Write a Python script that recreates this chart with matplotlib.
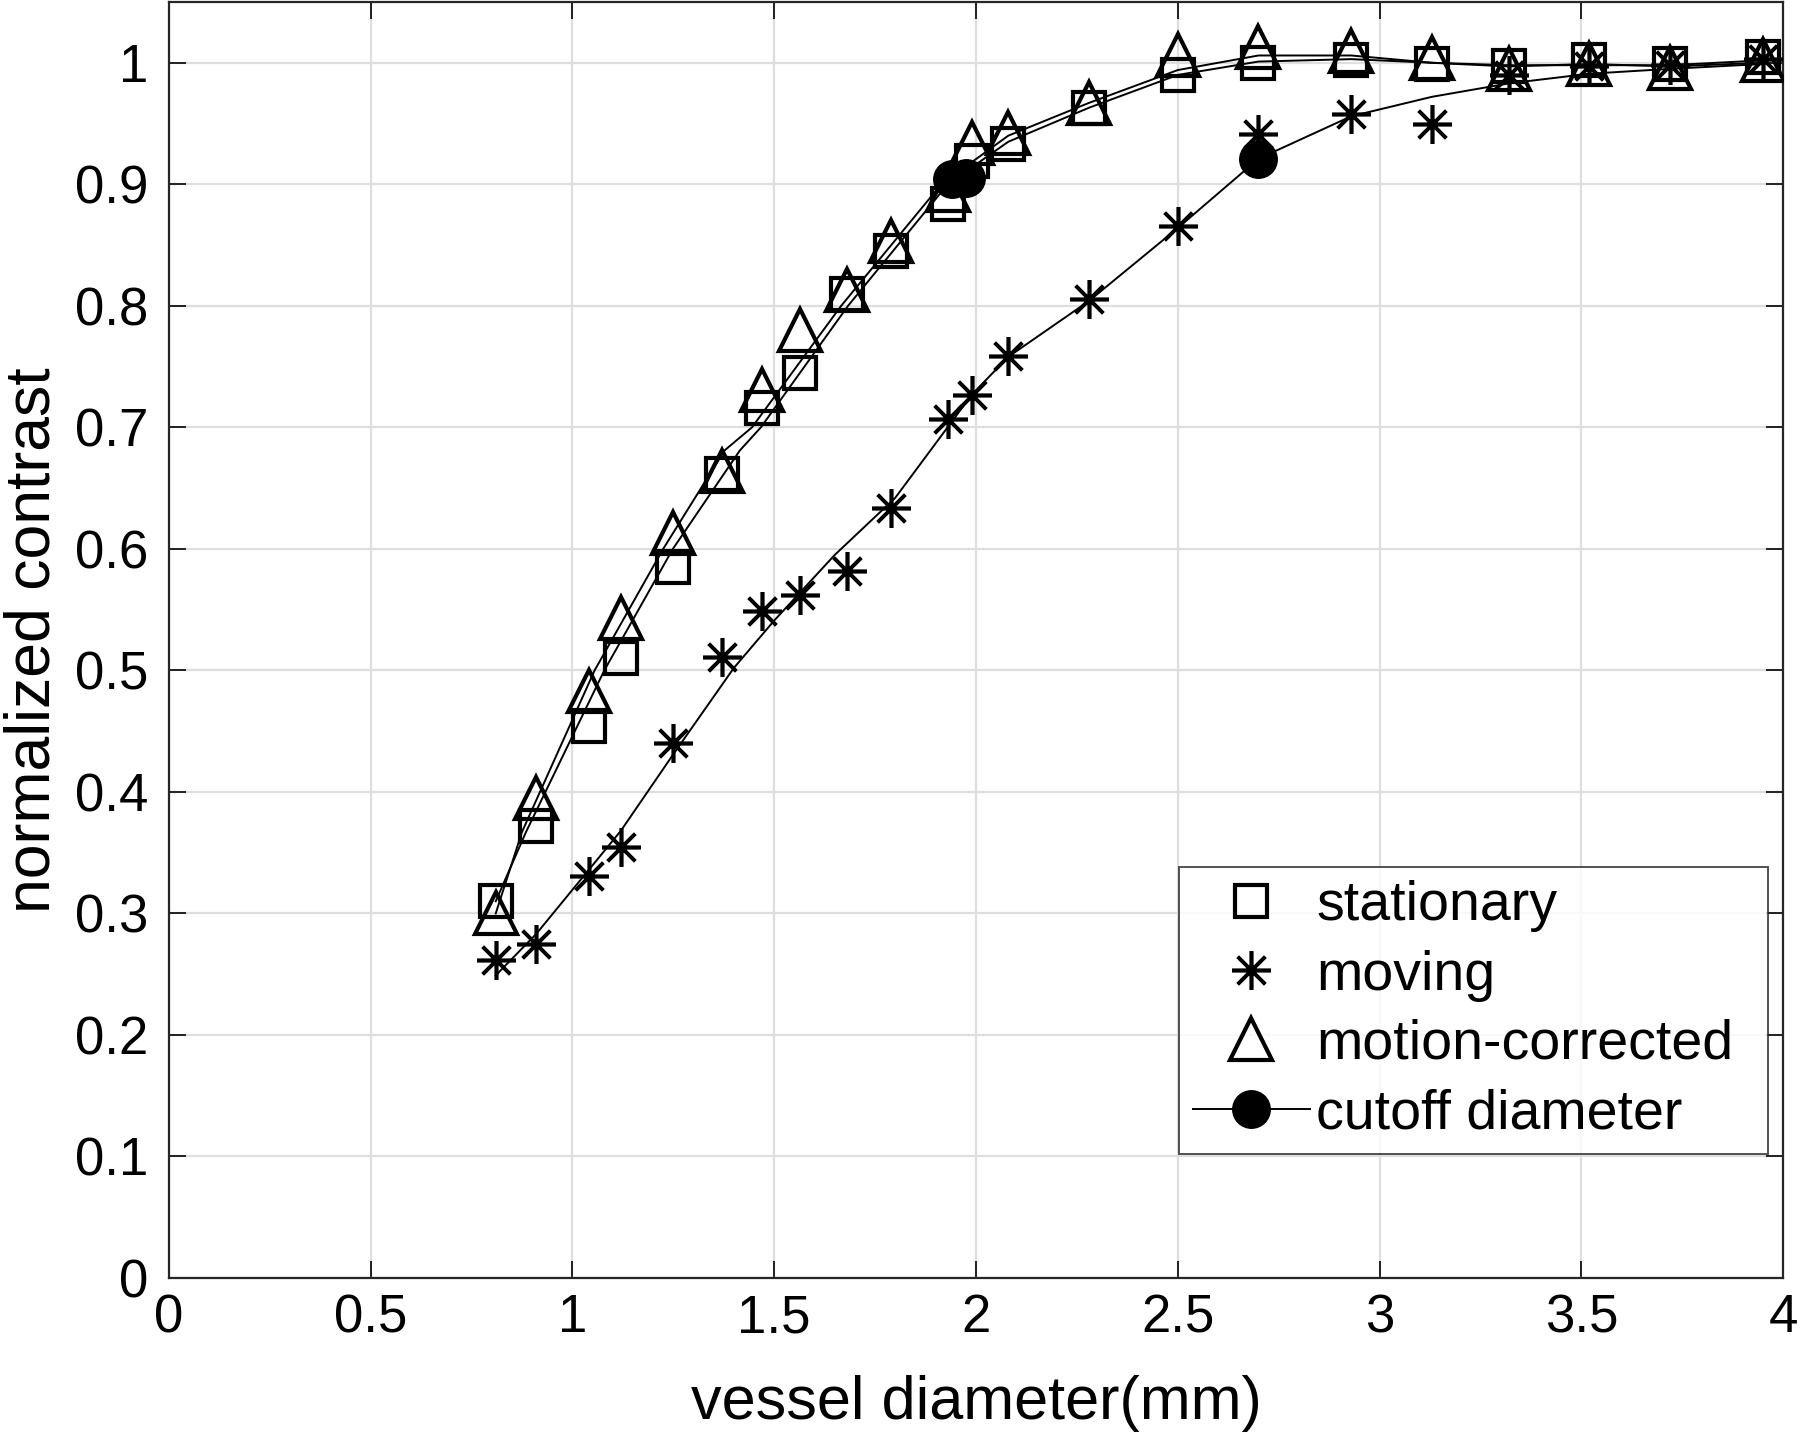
import matplotlib
matplotlib.use("Agg")
import matplotlib.pyplot as plt
from matplotlib.lines import Line2D

plt.rcParams['font.family'] = ['Liberation Sans', 'DejaVu Sans']

# measured points
diam = [0.81, 0.91, 1.04, 1.12, 1.25, 1.37, 1.47, 1.565, 1.68, 1.79, 1.93, 1.99,
        2.08, 2.28, 2.50, 2.70, 2.93, 3.13, 3.32, 3.52, 3.72, 3.95]
stationary = [0.310, 0.372, 0.454, 0.510, 0.585, 0.662, 0.716, 0.745, 0.810, 0.845, 0.884, 0.919,
              0.933, 0.963, 0.990, 1.000, 1.002, 0.999, 0.997, 1.002, 0.999, 1.005]
corrected = [0.300, 0.395, 0.483, 0.543, 0.613, 0.664, 0.731, 0.780, 0.813, 0.853, 0.895, 0.934,
             0.942, 0.967, 1.006, 1.013, 1.010, 1.004, 0.995, 0.999, 0.996, 1.002]
moving = [0.262, 0.275, 0.331, 0.355, 0.440, 0.511, 0.549, 0.562, 0.582, 0.634, 0.707, 0.727,
          0.759, 0.806, 0.866, 0.941, 0.958, 0.950, 0.990, 0.997, 0.998, 1.003]

# fitted curves
fit_x_stat = [0.81, 0.885, 1.079, 1.249, 1.415, 1.467, 1.683, 1.93, 2.08, 2.28, 2.50, 2.70,
              2.93, 3.13, 3.32, 3.52, 3.72, 3.95]
fit_stat = [0.310, 0.367, 0.500, 0.600, 0.681, 0.700, 0.800, 0.900, 0.935, 0.963, 0.990, 1.001,
            1.003, 1.000, 0.998, 0.998, 0.998, 1.002]
fit_x_corr = [0.81, 0.875, 1.055, 1.225, 1.377, 1.445, 1.666, 1.914, 2.08, 2.28, 2.50, 2.70,
              2.93, 3.13, 3.32, 3.52, 3.72, 3.95]
fit_corr = [0.300, 0.367, 0.500, 0.600, 0.681, 0.700, 0.800, 0.900, 0.940, 0.967, 0.994, 1.006,
            1.006, 1.000, 0.997, 0.999, 0.997, 1.000]
fit_x_mov = [0.81, 0.91, 1.12, 1.25, 1.40, 1.50, 1.65, 1.80, 1.99, 2.08, 2.28, 2.50, 2.70,
             2.93, 3.13, 3.32, 3.52, 3.72, 3.95]
fit_mov = [0.249, 0.283, 0.368, 0.431, 0.502, 0.541, 0.595, 0.642, 0.727, 0.758, 0.804, 0.864,
           0.921, 0.956, 0.972, 0.983, 0.991, 0.995, 0.999]

cut_x = [1.94, 1.975, 2.70]
cut_y = [0.904, 0.905, 0.921]

fig = plt.figure(figsize=(18, 14.41), dpi=100)
ax = fig.add_axes([0.0938, 0.1131, 0.8968, 0.8855])

lw = 1.4
ax.plot(fit_x_stat, fit_stat, '-', color='k', lw=lw, zorder=2)
ax.plot(fit_x_corr, fit_corr, '-', color='k', lw=lw, zorder=2)
ax.plot(fit_x_mov, fit_mov, '-', color='k', lw=lw, zorder=2)

ax.plot(diam, stationary, 's', ms=23, mfc='none', mec='k', mew=3, label='stationary', zorder=3)
ax.plot(diam, moving, marker=(8, 2, 0), ls='none', ms=28, mec='k', mew=2.6, label='moving', zorder=3)
ax.plot(diam, corrected, '^', ms=30, mfc='none', mec='k', mew=3, label='motion-corrected', zorder=3)
ax.plot(cut_x, cut_y, 'o', ms=27, color='k', zorder=4)

handles, labels = ax.get_legend_handles_labels()
handles.append(Line2D([], [], color='k', lw=lw, marker='o', ms=27))
labels.append('cutoff diameter')

ax.set_xlim(0, 4)
ax.set_ylim(0, 1.05)
ax.set_xticks([0, 0.5, 1, 1.5, 2, 2.5, 3, 3.5, 4])
ax.set_xticklabels(['0', '0.5', '1', '1.5', '2', '2.5', '3', '3.5', '4'])
ax.set_yticks([i / 10 for i in range(11)])
ax.set_yticklabels(['0', '0.1', '0.2', '0.3', '0.4', '0.5', '0.6', '0.7', '0.8', '0.9', '1'])
ax.tick_params(direction='in', length=12, width=1.2, labelsize=38, top=True, right=True)
ax.tick_params(axis='x', pad=11)
ax.tick_params(axis='y', pad=15)
ax.grid(True, color='#dedede', lw=1.6)
ax.set_axisbelow(True)
for s in ax.spines.values():
    s.set_linewidth(1.6)
    s.set_color('#262626')

ax.set_xlabel('vessel diameter(mm)', fontsize=44)
ax.set_ylabel('normalized contrast', fontsize=45)
ax.xaxis.set_label_coords(0.5, -0.076)
ax.yaxis.set_label_coords(-0.066, 0.5)

leg = ax.legend(handles, labels, loc='lower left', bbox_to_anchor=(0.6258, 0.0972, 0.3649, 0.2),
                mode='expand', fontsize=40, frameon=True, fancybox=False, edgecolor='#262626',
                handlelength=2.1, handletextpad=0.12, labelspacing=0.31, borderpad=0.25,
                borderaxespad=0)
leg.get_frame().set_linewidth(1.4)

fig.savefig('out.png', dpi=100)
